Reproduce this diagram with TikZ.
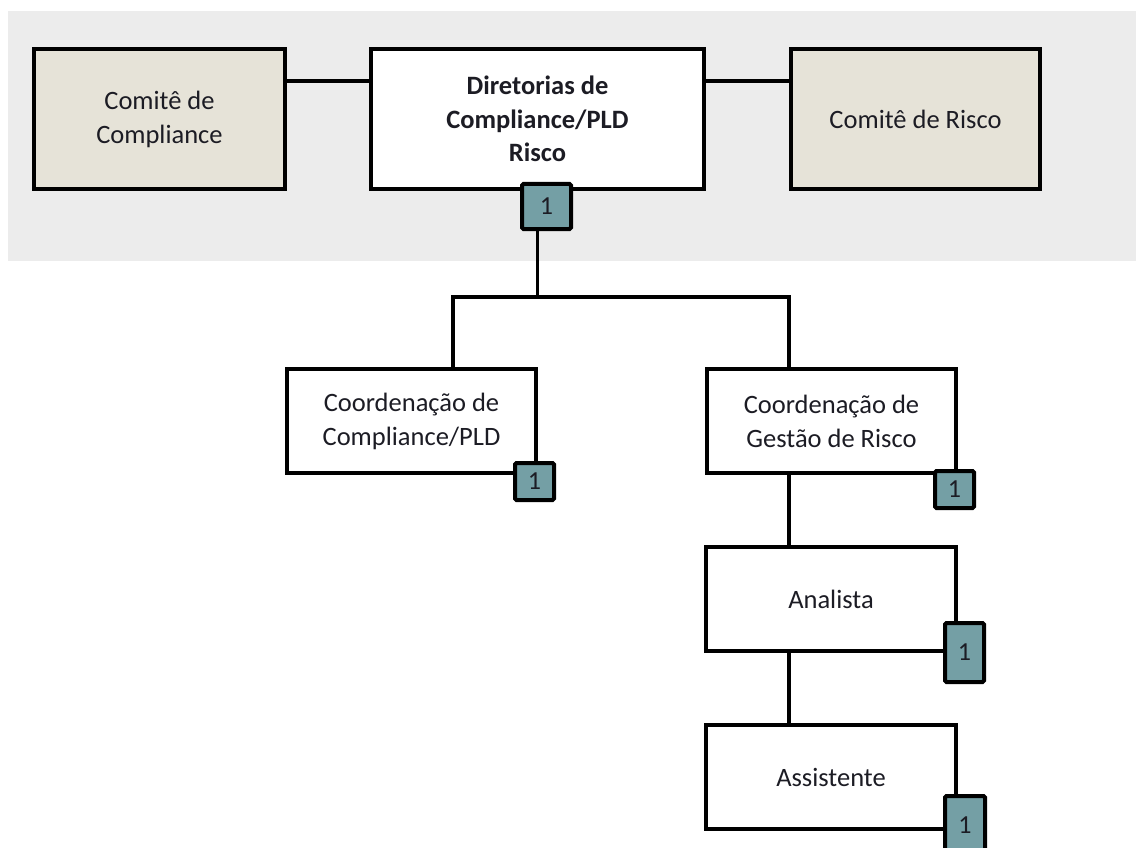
\documentclass[tikz,border=0pt]{standalone}
\usepackage{fontspec}
\setmainfont{Carlito}
\definecolor{bggrey}{RGB}{236,236,236}
\definecolor{comite}{RGB}{230,227,216}
\definecolor{badgefill}{RGB}{116,159,165}
\definecolor{txt}{RGB}{28,28,36}
\begin{document}
\begin{tikzpicture}[x=1pt,y=-1pt,
  box/.style={draw=black, line width=4pt, fill=white, align=center, inner sep=0pt,
    font=\fontsize{26.5}{34}\selectfont, text=txt},
  badge/.style={draw=black, line width=4pt, fill=badgefill, inner sep=0pt,
    rounded corners=1.5pt, font=\fontsize{26}{30}\selectfont, text=txt},
  conn/.style={draw=black, line width=3.5pt}]
\useasboundingbox (0,0) rectangle (1136,848);
\clip (0,0) rectangle (1136,848);
\fill[bggrey] (8,11) rectangle (1136,261);
% boxes
\node[box, fill=comite, minimum width=251, minimum height=140] (cc) at (159.5,119) {Comitê de\\Compliance};
\node[box, minimum width=333, minimum height=140, font=\fontsize{26.5}{33.5}\selectfont\bfseries] (dir) at (537.5,119) {Diretorias de\\Compliance/PLD\\Risco};
\node[box, fill=comite, minimum width=249, minimum height=140] (cr) at (915.5,119) {Comitê de Risco};
\node[box, minimum width=249, minimum height=104] (c1) at (411.5,421) {Coordenação de\\Compliance/PLD};
\node[box, minimum width=249, minimum height=104] (c2) at (831.5,421) {Coordenação de\\Gestão de Risco};
\node[box, minimum width=250, minimum height=104] (an) at (831,599) {Analista};
\node[box, minimum width=250, minimum height=104] (as) at (831,777) {Assistente};
% connectors
\coordinate (jm) at (537.5,297);
\coordinate (jl) at (453,297);
\coordinate (jr) at (789,297);
\draw[conn] ([yshift=-34]cc.north east) -- ([yshift=-34]dir.north west);
\draw[conn] ([yshift=-34]dir.north east) -- ([yshift=-34]cr.north west);
\draw[conn] (dir.south) -- (jm);
\draw[conn] ([xshift=41.5]c1.north) -- (jl) -- (jr) -- ([xshift=-42.5]c2.north);
\draw[conn] ([xshift=-42.5]c2.south) -- ([xshift=-42]an.north);
\draw[conn] ([xshift=-42]an.south) -- ([xshift=-42]as.north);
% badges
\node[badge, minimum width=49, minimum height=45] (b0) at (546.5,206.5) {1};
\node[badge, minimum width=39, minimum height=37] (b1) at (534.5,481.5) {1};
\node[badge, minimum width=39, minimum height=37] (b2) at (954.5,489.5) {1};
\node[badge, minimum width=39, minimum height=59] (b3) at (964.5,652.5) {1};
\node[badge, minimum width=40, minimum height=59] (b4) at (965,825.5) {1};
\end{tikzpicture}
\end{document}
